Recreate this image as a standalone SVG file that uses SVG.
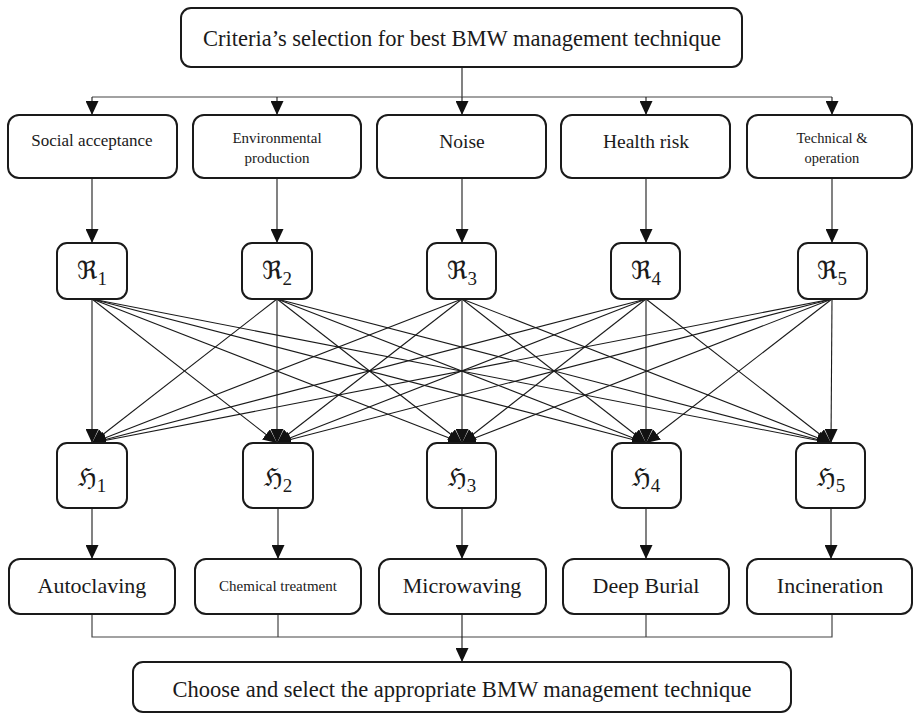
<svg xmlns="http://www.w3.org/2000/svg" width="914" height="714" viewBox="0 0 914 714">
<defs>
<marker id="arr" markerUnits="userSpaceOnUse" markerWidth="14" markerHeight="13" refX="14" refY="6.5" orient="auto">
<path d="M0,0 L14,6.5 L0,13 z" fill="#111"/>
</marker>
<style>
.box{fill:#fff;stroke:#1a1a1a;stroke-width:2}
.ln{fill:none;stroke:#1a1a1a;stroke-width:1.1}
.lg{fill:none;stroke:#444;stroke-width:1.2}
.t{font-family:"Liberation Serif",serif;fill:#1a1a1a;text-anchor:middle}
.f{font-family:"DejaVu Serif","DejaVu Sans",serif;fill:#1a1a1a;text-anchor:middle;font-size:25px}
.s{font-family:"Liberation Serif",serif;font-size:19px}
</style>
</defs>
<rect width="914" height="714" fill="#fff"/>
<g id="connectors">
<path class="ln" d="M462,67 V97"/>
<path class="lg" d="M92,97 H832"/>
<path class="ln" marker-end="url(#arr)" d="M92,97 V115"/>
<path class="ln" marker-end="url(#arr)" d="M277,97 V115"/>
<path class="ln" marker-end="url(#arr)" d="M462,97 V115"/>
<path class="ln" marker-end="url(#arr)" d="M646,97 V115"/>
<path class="ln" marker-end="url(#arr)" d="M832,97 V115"/>
<path class="ln" marker-end="url(#arr)" d="M92,178 V243"/>
<path class="ln" marker-end="url(#arr)" d="M277,178 V243"/>
<path class="ln" marker-end="url(#arr)" d="M462,178 V243"/>
<path class="ln" marker-end="url(#arr)" d="M646,178 V243"/>
<path class="ln" marker-end="url(#arr)" d="M832,178 V243"/>
<g marker-end="url(#arr)" class="ln">
<line x1="92" y1="299" x2="92" y2="443"/><line x1="92" y1="299" x2="277" y2="443"/><line x1="92" y1="299" x2="462" y2="443"/><line x1="92" y1="299" x2="646" y2="443"/><line x1="92" y1="299" x2="831" y2="443"/>
<line x1="277" y1="299" x2="92" y2="443"/><line x1="277" y1="299" x2="277" y2="443"/><line x1="277" y1="299" x2="462" y2="443"/><line x1="277" y1="299" x2="646" y2="443"/><line x1="277" y1="299" x2="831" y2="443"/>
<line x1="462" y1="299" x2="92" y2="443"/><line x1="462" y1="299" x2="277" y2="443"/><line x1="462" y1="299" x2="462" y2="443"/><line x1="462" y1="299" x2="646" y2="443"/><line x1="462" y1="299" x2="831" y2="443"/>
<line x1="646" y1="299" x2="92" y2="443"/><line x1="646" y1="299" x2="277" y2="443"/><line x1="646" y1="299" x2="462" y2="443"/><line x1="646" y1="299" x2="646" y2="443"/><line x1="646" y1="299" x2="831" y2="443"/>
<line x1="832" y1="299" x2="92" y2="443"/><line x1="832" y1="299" x2="277" y2="443"/><line x1="832" y1="299" x2="462" y2="443"/><line x1="832" y1="299" x2="646" y2="443"/><line x1="832" y1="299" x2="831" y2="443"/>
</g>
<path class="ln" marker-end="url(#arr)" d="M92,508 V559"/>
<path class="ln" marker-end="url(#arr)" d="M278,508 V559"/>
<path class="ln" marker-end="url(#arr)" d="M462,508 V559"/>
<path class="ln" marker-end="url(#arr)" d="M646,508 V559"/>
<path class="ln" marker-end="url(#arr)" d="M831,508 V559"/>
<path class="lg" d="M92,614 V637 H832 V614 M278,614 V637 M646,614 V637"/>
<path class="ln" marker-end="url(#arr)" d="M462,614 V662"/>
</g>
<g id="top"><rect class="box" x="181" y="8" width="561" height="59" rx="10"/><text class="t" x="462" y="46" font-size="22.5">Criteria’s selection for best BMW management technique</text></g>
<g id="c1"><rect class="box" x="8" y="115" width="169" height="63" rx="11"/><text class="t" x="92" y="146" font-size="17">Social acceptance</text></g>
<g id="c2"><rect class="box" x="193" y="115" width="168" height="63" rx="11"/><text class="t" x="277" y="143" font-size="15">Environmental</text><text class="t" x="277" y="163" font-size="15">production</text></g>
<g id="c3"><rect class="box" x="377" y="115" width="169" height="63" rx="11"/><text class="t" x="462" y="148" font-size="19.5">Noise</text></g>
<g id="c4"><rect class="box" x="561" y="115" width="169" height="63" rx="11"/><text class="t" x="646" y="148" font-size="19.5">Health risk</text></g>
<g id="c5"><rect class="box" x="747" y="115" width="165" height="63" rx="11"/><text class="t" x="832" y="143" font-size="14.5">Technical &amp;</text><text class="t" x="832" y="163" font-size="14.5">operation</text></g>
<g id="r1"><rect class="box" x="57" y="243" width="70" height="56" rx="10"/><text class="f" x="92" y="279">ℜ<tspan class="s" dy="6">1</tspan></text></g>
<g id="r2"><rect class="box" x="242" y="243" width="70" height="56" rx="10"/><text class="f" x="277" y="279">ℜ<tspan class="s" dy="6">2</tspan></text></g>
<g id="r3"><rect class="box" x="427" y="243" width="69" height="56" rx="10"/><text class="f" x="462" y="279">ℜ<tspan class="s" dy="6">3</tspan></text></g>
<g id="r4"><rect class="box" x="611" y="243" width="69" height="56" rx="10"/><text class="f" x="646" y="279">ℜ<tspan class="s" dy="6">4</tspan></text></g>
<g id="r5"><rect class="box" x="798" y="243" width="69" height="56" rx="10"/><text class="f" x="832" y="279">ℜ<tspan class="s" dy="6">5</tspan></text></g>
<g id="h1"><rect class="box" x="57" y="443" width="70" height="65" rx="10"/><text class="f" x="92" y="486">ℌ<tspan class="s" dy="6">1</tspan></text></g>
<g id="h2"><rect class="box" x="243" y="443" width="70" height="65" rx="10"/><text class="f" x="278" y="486">ℌ<tspan class="s" dy="6">2</tspan></text></g>
<g id="h3"><rect class="box" x="427" y="443" width="69" height="65" rx="10"/><text class="f" x="462" y="486">ℌ<tspan class="s" dy="6">3</tspan></text></g>
<g id="h4"><rect class="box" x="612" y="443" width="69" height="65" rx="10"/><text class="f" x="646" y="486">ℌ<tspan class="s" dy="6">4</tspan></text></g>
<g id="h5"><rect class="box" x="796" y="443" width="69" height="65" rx="10"/><text class="f" x="831" y="486">ℌ<tspan class="s" dy="6">5</tspan></text></g>
<g id="b1"><rect class="box" x="9" y="559" width="166" height="55" rx="11"/><text class="t" x="92" y="593" font-size="22">Autoclaving</text></g>
<g id="b2"><rect class="box" x="195" y="559" width="166" height="55" rx="11"/><text class="t" x="278" y="591" font-size="15">Chemical treatment</text></g>
<g id="b3"><rect class="box" x="379" y="559" width="167" height="55" rx="11"/><text class="t" x="462" y="593" font-size="22">Microwaving</text></g>
<g id="b4"><rect class="box" x="563" y="559" width="166" height="55" rx="11"/><text class="t" x="646" y="593" font-size="22">Deep Burial</text></g>
<g id="b5"><rect class="box" x="747" y="559" width="165" height="55" rx="11"/><text class="t" x="830" y="593" font-size="22">Incineration</text></g>
<g id="bottom"><rect class="box" x="133" y="662" width="658" height="50" rx="10"/><text class="t" x="462" y="697" font-size="22.5">Choose and select the appropriate BMW management technique</text></g>
</svg>
